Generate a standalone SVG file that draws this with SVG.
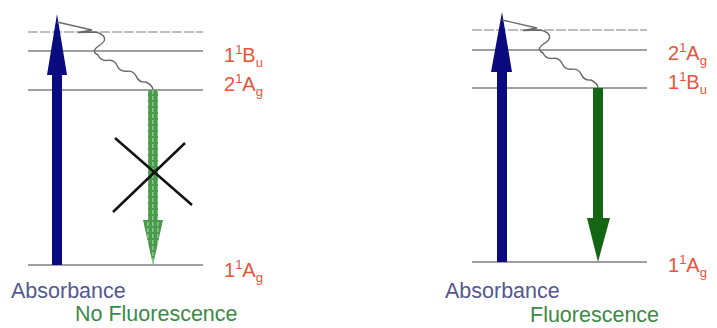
<svg xmlns="http://www.w3.org/2000/svg" width="717" height="328" viewBox="0 0 717 328">
<style>
.lvl{stroke:#7f7f7f;stroke-width:1.5;fill:none}
.top{stroke:#a8a8a8;stroke-width:1.5;fill:none;stroke-dasharray:10 2}
.wave{stroke:#6a6a6a;stroke-width:1.4;fill:none}
.blue{fill:#0b0b80}
.lbl{font-family:"Liberation Sans",Arial,sans-serif;font-size:20px;fill:#e5553a}
.sm{font-size:13px}
.abs{font-family:"Liberation Sans",Arial,sans-serif;font-size:21.5px;fill:#535890}
.fl{font-family:"Liberation Sans",Arial,sans-serif;font-size:21.5px;fill:#3b8a45}
.cross{stroke:#111;stroke-width:2.5}
</style>
<defs>
<pattern id="hatch" patternUnits="userSpaceOnUse" width="5" height="6">
<rect width="5" height="6" fill="#4a994d"/>
<rect x="2" y="0" width="1.6" height="4" fill="#86c886"/>
</pattern>
</defs>
<g id="left-levels">
<line class="top" x1="28" y1="32" x2="203" y2="32"/>
<line class="lvl" x1="28" y1="51" x2="203" y2="51"/>
<line class="lvl" x1="28" y1="90" x2="203" y2="90"/>
<line class="lvl" x1="28" y1="265" x2="203" y2="265"/>
</g>
<g id="right-levels">
<line class="top" x1="472" y1="30" x2="647" y2="30"/>
<line class="lvl" x1="472" y1="50" x2="647" y2="50"/>
<line class="lvl" x1="472" y1="88" x2="647" y2="88"/>
<line class="lvl" x1="472" y1="262" x2="647" y2="262"/>
</g>
<g id="connectors">
<path class="blue" d="M57,14 L67,75 L62,75 L62,265 L52,265 L52,75 L47,75 Z"/>
<path class="wave" d="M57,22 L92,30 L78,32.5 L95,32 C105,34 108,40 100,45 C94,49 92,52 98,55 Q100.8,61.2 107.6,60.4 T117.2,65.8 T126.8,71.2 T136.4,76.6 T146,82 C150,84 153,86 153,90"/>
<path fill="url(#hatch)" d="M148,90 L158,90 L158,220 L163,220 L153,265 L143,220 L148,220 Z"/>
<line class="cross" x1="115" y1="138" x2="192" y2="205"/>
<line class="cross" x1="185" y1="143" x2="113" y2="212"/>
<path class="blue" d="M502,12 L512,72 L507,72 L507,262 L497,262 L497,72 L491,72 Z"/>
<path class="wave" transform="translate(445,-2)" d="M57,22 L92,30 L78,32.5 L95,32 C105,34 108,40 100,45 C94,49 92,52 98,55 Q100.8,61.2 107.6,60.4 T117.2,65.8 T126.8,71.2 T136.4,76.6 T146,82 C150,84 153,86 153,90"/>
<path fill="#146614" d="M593,88 L603,88 L603,218 L610,218 L598,262 L587,218 L593,218 Z"/>
</g>
<g id="left-labels">
<text class="lbl" x="224" y="62">1<tspan class="sm" dy="-8">1</tspan><tspan dy="8">B</tspan><tspan class="sm" dy="5">u</tspan></text>
<text class="lbl" x="224" y="91">2<tspan class="sm" dy="-8">1</tspan><tspan dy="8">A</tspan><tspan class="sm" dy="5">g</tspan></text>
<text class="lbl" x="224" y="277">1<tspan class="sm" dy="-8">1</tspan><tspan dy="8">A</tspan><tspan class="sm" dy="5">g</tspan></text>
<text class="abs" x="11" y="298">Absorbance</text>
<text class="fl" x="75" y="321">No Fluorescence</text>
</g>
<g id="right-labels">
<text class="lbl" x="668" y="60">2<tspan class="sm" dy="-8">1</tspan><tspan dy="8">A</tspan><tspan class="sm" dy="5">g</tspan></text>
<text class="lbl" x="668" y="89">1<tspan class="sm" dy="-8">1</tspan><tspan dy="8">B</tspan><tspan class="sm" dy="5">u</tspan></text>
<text class="lbl" x="668" y="272">1<tspan class="sm" dy="-8">1</tspan><tspan dy="8">A</tspan><tspan class="sm" dy="5">g</tspan></text>
<text class="abs" x="445" y="298">Absorbance</text>
<text class="fl" x="530" y="322">Fluorescence</text>
</g>
</svg>
